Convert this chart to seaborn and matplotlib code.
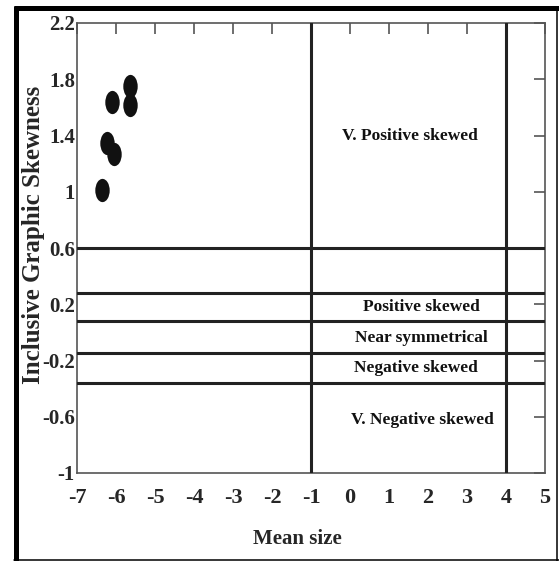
import numpy as np
import pandas as pd
import matplotlib
matplotlib.use("Agg")
import matplotlib.pyplot as plt
import seaborn as sns
from matplotlib.path import Path
from matplotlib.transforms import Affine2D
from matplotlib.lines import Line2D

# sample points
mean_size = [-6.35, -6.09, -5.65, -5.64, -6.23, -6.05]
skewness = [1.01, 1.64, 1.75, 1.62, 1.35, 1.27]

# class boundaries drawn on the chart
h_bounds = [0.6, 0.28, 0.08, -0.15, -0.36]
v_bounds = [-1, 4]

# class labels
class_names = ["V. Positive skewed", "Positive skewed", "Near symmetrical",
               "Negative skewed", "V. Negative skewed"]
class_x = [1.54, 1.83, 1.83, 1.68, 1.86]
class_y = [1.40, 0.18, -0.04, -0.25, -0.62]

x_ticks = list(range(-7, 6))
y_ticks = [2.2, 1.8, 1.4, 1.0, 0.6, 0.2, -0.2, -0.6, -1.0]
y_labels = ["2.2", "1.8", "1.4", "1", "0.6", "0.2", "-0.2", "-0.6", "-1"]

sns.set_style("white")
plt.rcParams["font.family"] = ["Liberation Serif", "DejaVu Serif"]
plt.rcParams["font.weight"] = "bold"
plt.rcParams["axes.unicode_minus"] = False

df = pd.DataFrame({"Mean size": mean_size, "Skewness": skewness})

fig = plt.figure(figsize=(5.59, 5.61), dpi=100)
ax = fig.add_axes([77 / 559, 1 - 473 / 561, 468 / 559, 450 / 561])

# tall oval marker like the original dots
oval = Path.unit_circle().transformed(Affine2D().scale(0.62, 1.0))
sns.scatterplot(data=df, x="Mean size", y="Skewness", ax=ax, marker=oval,
                s=280, color="#111111", edgecolor="#111111", linewidth=0, zorder=4)

for yb in h_bounds:
    ax.axhline(yb, color="#222222", lw=2.2, zorder=3)
for xb in v_bounds:
    ax.axvline(xb, color="#222222", lw=2.2, zorder=3)

for name, tx, ty in zip(class_names, class_x, class_y):
    ax.text(tx, ty, name, ha="center", va="center", fontsize=12.5,
            fontweight="bold", color="#111111", zorder=5)

ax.set_xlim(-7, 5)
ax.set_ylim(-1, 2.2)
ax.set_xticks(x_ticks)
ax.set_xticklabels([str(t) for t in x_ticks])
ax.set_yticks(y_ticks)
ax.set_yticklabels(y_labels)

ax.tick_params(axis="both", direction="in", length=8, width=1.2, color="#555555",
               top=True, right=True, labeltop=False, labelright=False)
ax.tick_params(axis="x", labelsize=16, pad=11)
ax.tick_params(axis="y", labelsize=15, pad=1.5)

for sp in ax.spines.values():
    sp.set_color("#555555")
    sp.set_linewidth(1.2)

ax.set_xlabel("Mean size", fontsize=15, fontweight="bold")
ax.set_ylabel("Inclusive Graphic Skewness", fontsize=18, fontweight="bold")
ax.xaxis.set_label_coords(0.471, -0.125)
ax.yaxis.set_label_coords(-0.069, 0.529)

# frame around the figure
fig.add_artist(Line2D([14 / 559, 1], [1 - 8 / 561, 1 - 8 / 561], transform=fig.transFigure,
                      color="black", lw=3.6, solid_capstyle="butt"))
fig.add_artist(Line2D([16 / 559, 16 / 559], [0, 1 - 6 / 561], transform=fig.transFigure,
                      color="black", lw=3.6, solid_capstyle="butt"))
fig.add_artist(Line2D([557 / 559, 557 / 559], [0, 1 - 8 / 561], transform=fig.transFigure,
                      color="black", lw=1.1))
fig.add_artist(Line2D([14 / 559, 1], [1.5 / 561, 1.5 / 561], transform=fig.transFigure,
                      color="black", lw=1.1))

fig.savefig("out.png", dpi=100)
